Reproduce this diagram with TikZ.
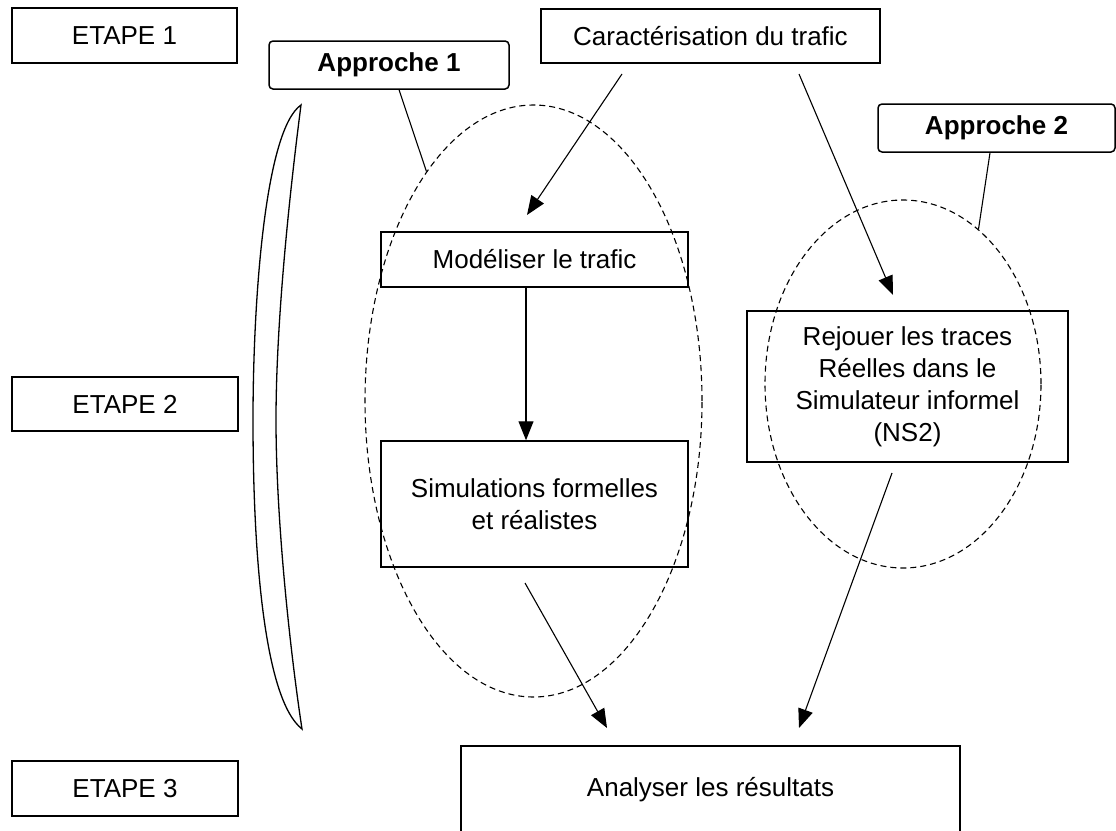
\documentclass[tikz,border=0pt]{standalone}
\usepackage{fontspec}
\setmainfont{Liberation Sans}
\usetikzlibrary{arrows.meta,shapes.geometric}
\begin{document}
\begin{tikzpicture}[x=1pt,y=-1pt,
  box/.style={draw,line width=1.5pt,inner sep=0pt,align=center,font=\fontsize{26}{32}\selectfont},
  apbox/.style={box,rounded corners=4pt,font=\fontsize{26}{32}\selectfont\bfseries},
  zone/.style={ellipse,draw,dash pattern=on 6pt off 4pt,line width=1.1pt,inner sep=0pt},
  link/.style={line width=1.1pt},
  arr/.style={line width=1.1pt,-{Triangle[length=19pt,width=15pt]}},
  lens/.style={line width=1.3pt},
]
\useasboundingbox (0,0) rectangle (1116,830);

% stage labels
\node[box,minimum width=225pt,minimum height=55pt] (etape1) at (124.5,35.5) {ETAPE 1};
\node[box,minimum width=226pt,minimum height=54pt] (etape2) at (125,404) {ETAPE 2};
\node[box,minimum width=226pt,minimum height=55pt] (etape3) at (125,788.5) {ETAPE 3};

% approaches
\node[apbox,minimum width=240pt,minimum height=48pt] (appr1) at (389,65) {Approche 1};
\node[apbox,minimum width=237pt,minimum height=48pt] (appr2) at (996.5,128) {Approche 2};

% process boxes
\node[box,minimum width=339pt,minimum height=54pt] (caract) at (710.5,36) {Caractérisation du trafic};
\node[box,minimum width=307pt,minimum height=55pt] (model) at (534.5,259.5) {Modéliser le trafic};
\node[box,minimum width=307pt,minimum height=126pt] (simul) at (534.5,504) {Simulations formelles\\et réalistes};
\node[box,minimum width=321pt,minimum height=151pt] (rejouer) at (907.5,386.5) {Rejouer les traces\\Réelles dans le\\Simulateur informel\\(NS2)};
\node[box,minimum width=499pt,minimum height=88pt] (analyser) at (710.5,790) {Analyser les résultats};

% dashed zones
\node[zone,minimum width=337pt,minimum height=592pt] (zone1) at (533.5,401) {};
\node[zone,minimum width=276pt,minimum height=368pt] (zone2) at (903,384) {};

% callout lines
\draw[link] ([xshift=10pt]appr1.south) -- (zone1.115);
\draw[link] ([xshift=-6.5pt]appr2.south) -- (zone2.64);

% arrow end points
\coordinate (c1s) at (622,74);
\coordinate (c1e) at (527,215);
\coordinate (c2s) at (799,74);
\coordinate (c2e) at (893,295);
\coordinate (s1s) at (525,583);
\coordinate (s1e) at (607,728);
\coordinate (r1s) at (892,473);
\coordinate (r1e) at (799,728);

\draw[arr] (c1s) -- (c1e);
\draw[arr] (c2s) -- (c2e);
\draw[arr] ([xshift=-8.5pt]model.south) -- ([xshift=-8.5pt]simul.north);
\draw[arr] (s1s) -- (s1e);
\draw[arr] (r1s) -- (r1e);

% lens-shaped bracket
\draw[lens] (301,105) .. controls (265,130) and (253,300) .. (253,420)
  .. controls (253,560) and (265,700) .. (302,729)
  .. controls (290,650) and (276,520) .. (276,420)
  .. controls (276,320) and (290,190) .. (301,105) -- cycle;
\end{tikzpicture}
\end{document}
